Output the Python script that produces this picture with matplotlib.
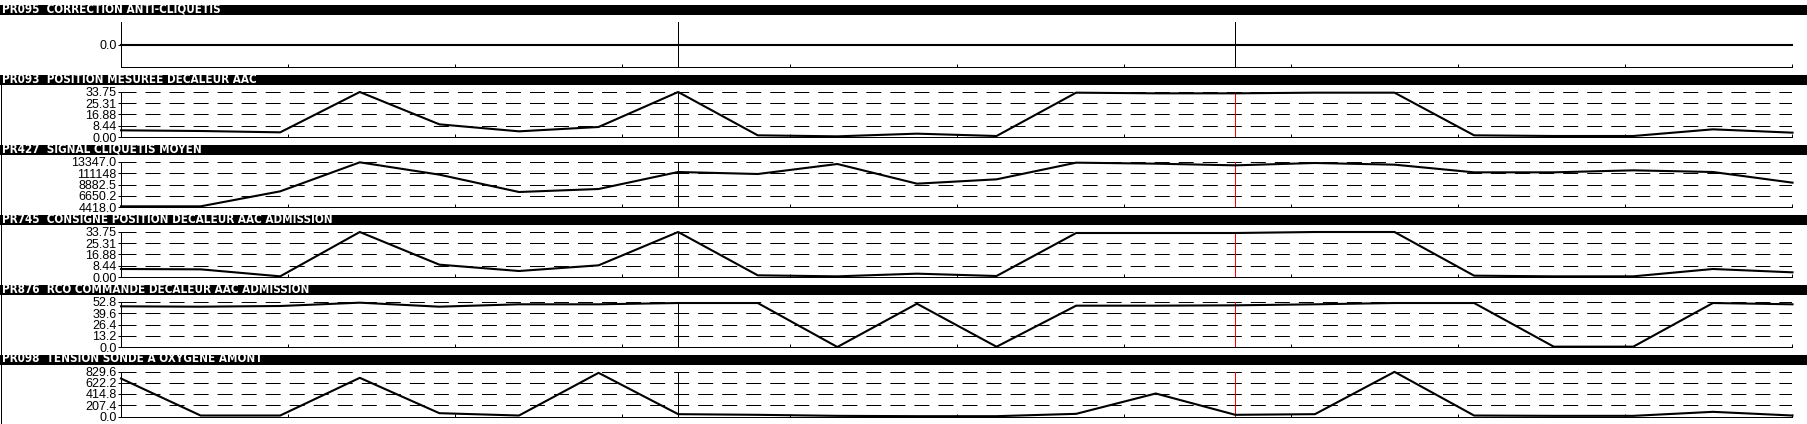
import numpy as np
import matplotlib
matplotlib.use('Agg')
import matplotlib.pyplot as plt
from matplotlib.patches import Rectangle
from matplotlib.lines import Line2D
from matplotlib import font_manager

plt.rcParams['lines.scale_dashes'] = False

# donnees (22 echantillons)
echantillons = list(range(22))
reperes_noirs = [7]
reperes_rouges = [14]

titres = [
    'PR095  CORRECTION ANTI-CLIQUETIS',
    'PR093  POSITION MESUREE DECALEUR AAC',
    'PR427  SIGNAL CLIQUETIS MOYEN',
    'PR745  CONSIGNE POSITION DECALEUR AAC ADMISSION',
    'PR876  RCO COMMANDE DECALEUR AAC ADMISSION',
    'PR098  TENSION SONDE A OXYGENE AMONT',
]

pr095 = [0.0] * 22
pr093 = [5.0, 4.5, 3.5, 33.75, 9.5, 4.25, 7.5, 33.75, 1.25, 0.5, 2.5,
         0.75, 33.25, 32.75, 32.75, 33.25, 33.25, 1.25, 0.75, 0.75, 5.75, 3.25]
pr427 = [4550, 4550, 7527, 13281, 10834, 7394, 7990, 11363, 10966, 12950, 9048,
         9908, 13215, 13016, 12686, 13148, 12818, 11296, 11296, 11693, 11363, 9246]
pr745 = [6.0, 5.75, 0.5, 33.75, 9.25, 4.5, 8.75, 33.75, 1.25, 0.5, 2.5,
         0.75, 33.0, 33.0, 33.0, 33.75, 33.75, 1.0, 0.5, 0.5, 6.0, 3.5]
pr876 = [47.7, 47.3, 48.1, 52.0, 47.3, 50.1, 50.1, 51.6, 51.6, 0.0, 50.8,
         0.3, 48.5, 48.5, 48.9, 50.1, 51.6, 51.6, 0.4, 0.4, 51.6, 50.1]
pr098 = [700, 18, 18, 713, 61, 18, 805, 43, 31, 12, 6,
         6, 49, 424, 31, 43, 823, 18, 12, 12, 86, 18]

series = [pr095, pr093, pr427, pr745, pr876, pr098]

ticks_y = [
    [0.0],
    [0.0, 8.44, 16.88, 25.31, 33.75],
    [4418.0, 6650.2, 8882.5, 11114.8, 13347.0],
    [0.0, 8.44, 16.88, 25.31, 33.75],
    [0.0, 13.2, 26.4, 39.6, 52.8],
    [0.0, 207.4, 414.8, 622.2, 829.6],
]
labels_y = [
    ['0.0'],
    ['0.00', '8.44', '16.88', '25.31', '33.75'],
    ['4418.0', '6650.2', '8882.5', '111148', '13347.0'],
    ['0.00', '8.44', '16.88', '25.31', '33.75'],
    ['0.0', '13.2', '26.4', '39.6', '52.8'],
    ['0.0', '207.4', '414.8', '622.2', '829.6'],
]
limites_y = [(-1, 1), (0, 33.75), (4418.0, 13347.0), (0, 33.75), (0, 52.8), (0, 829.6)]

# police etroite pour les bandeaux si dispo
noms = {f.name for f in font_manager.fontManager.ttflist}
if 'Liberation Sans Narrow' in noms:
    police_titre = dict(family='Liberation Sans Narrow', fontsize=9.2)
elif 'DejaVu Sans Condensed' in noms:
    police_titre = dict(family='DejaVu Sans Condensed', fontsize=8.4)
else:
    police_titre = dict(family='DejaVu Sans', stretch='condensed', fontsize=8.4)

W, H = 1808, 424
fig = plt.figure(figsize=(W / 100, H / 100), dpi=100)

gauche = 121
droite = 1792.5
hauts = [22, 92, 162, 232, 302, 371.5]
hauteur = 45

for k in range(6):
    haut = hauts[k]
    ax = fig.add_axes([gauche / W, 1 - (haut + hauteur) / H, (droite - gauche) / W, hauteur / H])

    # bandeau de titre
    fig.patches.append(Rectangle((0, 1 - (haut - 7) / H), 1, 10 / H, transform=fig.transFigure,
                                 facecolor='black', edgecolor='none'))
    fig.text(2 / W, 1 - (haut - 12.5) / H, titres[k], color='white', fontweight='bold',
             va='center', ha='left', **police_titre)

    ax.set_xlim(0, 21)
    ax.set_ylim(*limites_y[k])
    ax.set_xticks(np.linspace(0, 21, 11))
    ax.set_xticklabels([])
    ax.tick_params(axis='x', direction='in', length=2.2, width=0.72)
    ax.set_yticks(ticks_y[k])
    ax.set_yticklabels(labels_y[k], family='Liberation Sans', fontsize=9)
    ax.tick_params(axis='y', direction='out', length=2.2, width=0.72, pad=1)
    for s in ['top', 'right']:
        ax.spines[s].set_visible(False)
    for s in ['left', 'bottom']:
        ax.spines[s].set_linewidth(0.72)

    # grille en tirets
    if k > 0:
        for t in ticks_y[k][1:]:
            ax.axhline(t, color='black', linewidth=0.72, dashes=(10.8, 6.5), zorder=1)

    for r in reperes_noirs:
        ax.axvline(r, color='black', linewidth=0.72, zorder=2)
    for r in reperes_rouges:
        ax.axvline(r, color='red' if k > 0 else 'black', linewidth=0.72, zorder=2)

    ax.plot(echantillons, series[k], color='black', linewidth=1.5, zorder=3, clip_on=False)

# bordure gauche
fig.lines.append(Line2D([0.5 / W, 0.5 / W], [1 - 85 / H, 0], transform=fig.transFigure,
                        color='black', linewidth=0.72))

plt.savefig('out.png', dpi=100)
